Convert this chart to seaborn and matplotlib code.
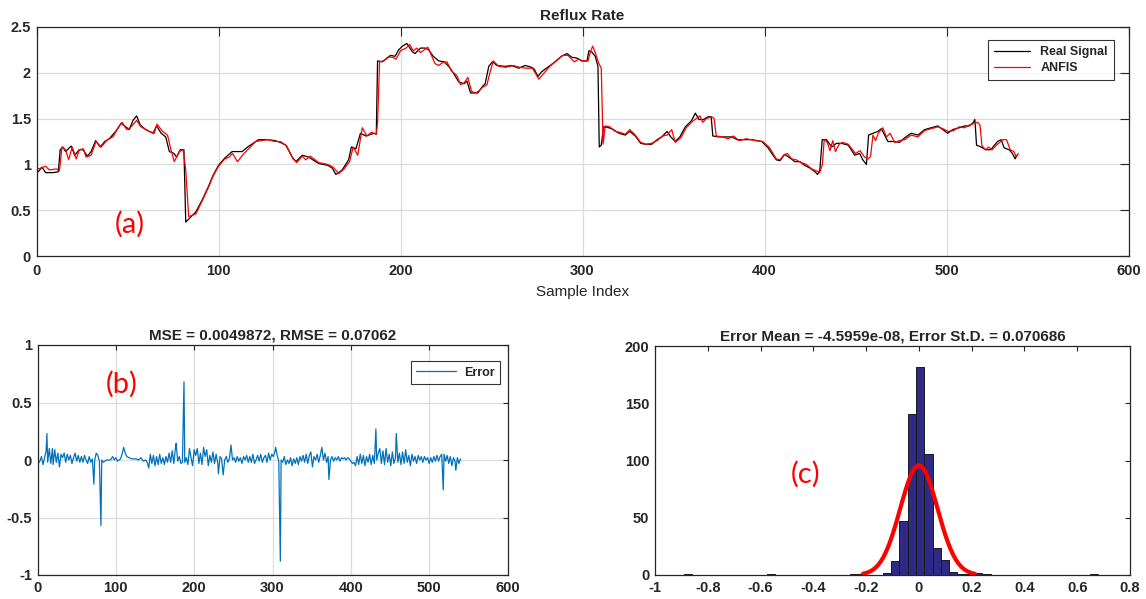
import numpy as np
import pandas as pd
import matplotlib
matplotlib.use("Agg")
import matplotlib.pyplot as plt
from matplotlib.ticker import FuncFormatter, MultipleLocator
import seaborn as sns

# ---------------- data ----------------
real_x = [1, 3, 5, 9, 12, 13, 14.5, 16, 19, 21, 23.5, 25.5, 28, 30, 32.5, 35, 37.5, 40, 43.5, 46.5,
          49, 51, 53, 55, 57, 60, 64, 66, 68.5, 71, 73, 75.5, 77, 79, 81, 82, 84, 87.5, 91, 94.5,
          97, 100, 103.5, 107.5, 113, 116, 122, 127, 131, 134, 137, 140.5, 142.5, 146, 149.5, 155, 160, 162.5, 164.5, 168,
          171.5, 173, 175.5, 178, 181, 185.5, 186.7, 187.4, 190, 192, 194.5, 197, 199, 201, 203.5, 206.5, 208, 211, 213.5, 215.5,
          218, 221, 224, 226.5, 229, 232, 235, 236.5, 238.5, 240, 242.5, 245, 246.5, 248.5, 250.5, 253, 257.5, 261,
          265, 268.5, 272, 273.5, 275.5, 277.5, 281.5, 285, 288.5, 291.5, 294, 297, 299.5, 302.5, 303.5, 305, 307, 308.5,
          309.2, 310.3, 311.6, 314.5, 317, 320, 323.5, 326, 329, 332, 334.5, 338, 341, 343.5, 346.5, 348.5, 351, 353.5,
          356.5, 360, 362, 364, 366.5, 369, 370.7, 371.6, 375, 382, 385, 393, 398.5, 402, 404, 406.5, 408.5, 411,
          414, 416.7, 419.5, 422, 425, 427.7, 429.2, 430.4, 431.7, 434, 437, 439.5, 442.3, 446, 449.6, 452.3, 454, 456,
          457.2, 459.6, 462.3, 464.2, 467.8, 471.5, 474.2, 477, 480.6, 484.3, 488, 491.5, 495.2, 498, 500.7, 503.4, 507, 510,
          512.5, 514.4, 515.6, 516.5, 519, 521.6, 524.3, 528, 530, 531.7, 534.4, 536.2, 537.7, 538.6]
real_y = [0.92, 0.97, 0.91, 0.91, 0.92, 1.16, 1.19, 1.14, 1.20, 1.10, 1.16, 1.16, 1.09, 1.14, 1.26, 1.19, 1.25, 1.28, 1.36, 1.45,
          1.41, 1.38, 1.48, 1.53, 1.43, 1.38, 1.34, 1.42, 1.34, 1.30, 1.14, 1.12, 1.08, 1.16, 1.16, 0.37, 0.41, 0.48, 0.61, 0.76,
          0.88, 0.99, 1.07, 1.14, 1.14, 1.19, 1.27, 1.27, 1.26, 1.24, 1.21, 1.08, 1.03, 1.10, 1.08, 1.01, 0.99, 0.96, 0.89, 0.94,
          1.05, 1.19, 1.17, 1.34, 1.31, 1.34, 1.33, 2.13, 2.12, 2.15, 2.19, 2.18, 2.25, 2.29, 2.32, 2.23, 2.21, 2.27, 2.27, 2.25,
          2.18, 2.13, 2.12, 2.07, 2.00, 1.90, 1.88, 1.91, 1.78, 1.78, 1.78, 1.85, 1.88, 2.07, 2.12, 2.08, 2.07, 2.08,
          2.05, 2.08, 2.06, 2.04, 1.96, 2.01, 2.07, 2.12, 2.18, 2.21, 2.17, 2.16, 2.13, 2.13, 2.24, 2.23, 2.18, 2.07,
          1.19, 1.21, 1.41, 1.40, 1.38, 1.34, 1.32, 1.36, 1.31, 1.23, 1.22, 1.22, 1.27, 1.30, 1.36, 1.30, 1.25, 1.30,
          1.41, 1.48, 1.56, 1.49, 1.49, 1.52, 1.52, 1.31, 1.30, 1.30, 1.27, 1.27, 1.25, 1.18, 1.12, 1.05, 1.04, 1.11,
          1.07, 1.03, 1.03, 0.99, 0.96, 0.92, 0.89, 0.94, 1.27, 1.27, 1.19, 1.23, 1.23, 1.21, 1.10, 1.12, 1.05, 1.00,
          1.32, 1.34, 1.36, 1.39, 1.25, 1.25, 1.24, 1.29, 1.34, 1.32, 1.38, 1.40, 1.42, 1.38, 1.34, 1.38, 1.40, 1.42,
          1.42, 1.45, 1.49, 1.21, 1.19, 1.16, 1.16, 1.25, 1.27, 1.18, 1.16, 1.12, 1.06, 1.10]

anfis_x = [1, 5, 7, 11, 12.6, 14, 16, 17.7, 19.6, 21.8, 23.6, 25.8, 27.2, 30, 32.7, 35.5, 39, 42, 44.6, 47,
           49.6, 52, 55, 57.4, 62, 64.7, 66.2, 69.3, 72, 73.5, 75.7, 78.4, 80.6, 82, 83.6, 87.6, 91, 94.5, 97, 100,
           103.5, 105.9, 107.7, 110.4, 114, 120.5, 127, 131, 134, 137.5, 141, 143, 146, 148, 150.5, 155, 160, 163, 166, 169,
           172, 174, 176.5, 179, 181.5, 184, 186.7, 187.4, 188.5, 190.5, 193, 195.5, 197.5, 200, 203, 205, 207, 209, 211, 213,
           215, 217, 219, 221, 223, 225.5, 228, 231, 233, 235, 237, 239, 241, 243, 245, 247.5, 249.5, 251, 254, 258,
           262, 265.5, 269, 272.5, 276, 279, 282, 286, 289, 292, 295.5, 298, 300, 303, 304.5, 305.6, 307, 308.8, 310.3, 311.3,
           312.5, 315, 318, 320.5, 323.5, 326, 329, 332, 335, 338, 341, 344, 346.5, 349, 351, 354, 357, 360.5, 362.5, 364.5,
           366, 368, 371, 372.3, 373.5, 377, 380, 383, 386, 390, 395, 399, 402.5, 406.5, 408.5, 410.5, 412.5, 415, 417.5, 420,
           423, 426, 428.5, 430.4, 431.8, 432.8, 434.5, 436, 437.5, 439, 441, 443, 446, 450, 452.5, 455, 457, 458.3, 459.6, 461,
           462.5, 465, 467, 469, 471.5, 474.2, 477, 480.6, 484.3, 488, 491.5, 495.2, 498, 501, 504, 507, 510, 512.5, 515.6, 517,
           518.4, 519.5, 521.6, 523, 525, 528, 531, 533, 535, 537, 538.3, 539.5]
anfis_y = [0.95, 0.98, 0.94, 0.95, 0.93, 1.19, 1.16, 1.05, 1.19, 1.06, 1.16, 1.17, 1.08, 1.10, 1.25, 1.19, 1.27, 1.30, 1.39, 1.46,
           1.38, 1.41, 1.48, 1.41, 1.36, 1.34, 1.44, 1.36, 1.32, 1.19, 1.03, 1.14, 1.16, 0.94, 0.43, 0.46, 0.60, 0.75, 0.87, 0.98,
           1.06, 1.08, 1.12, 1.03, 1.12, 1.25, 1.27, 1.25, 1.25, 1.20, 1.06, 1.02, 1.09, 1.05, 1.09, 1.02, 1.00, 0.97, 0.90, 0.95,
           1.03, 1.19, 1.10, 1.40, 1.31, 1.35, 1.33, 1.45, 2.12, 2.13, 2.17, 2.17, 2.15, 2.24, 2.27, 2.31, 2.24, 2.27, 2.22, 2.25,
           2.28, 2.19, 2.10, 2.08, 2.11, 2.12, 2.02, 1.97, 1.87, 1.89, 1.95, 1.80, 1.78, 1.80, 1.84, 1.87, 2.03, 2.13, 2.07, 2.06,
           2.08, 2.06, 2.05, 2.05, 1.93, 2.00, 2.07, 2.14, 2.19, 2.19, 2.12, 2.15, 2.13, 2.13, 2.24, 2.29, 2.22, 2.11, 2.05, 1.22,
           1.42, 1.41, 1.36, 1.35, 1.33, 1.38, 1.32, 1.24, 1.22, 1.23, 1.26, 1.31, 1.32, 1.38, 1.24, 1.29, 1.40, 1.47, 1.50, 1.53,
           1.46, 1.50, 1.52, 1.50, 1.31, 1.30, 1.28, 1.31, 1.26, 1.28, 1.26, 1.25, 1.19, 1.06, 1.05, 1.10, 1.12, 1.06, 1.05, 1.02,
           1.00, 0.95, 0.93, 0.91, 1.00, 1.27, 1.24, 1.15, 1.26, 1.14, 1.22, 1.24, 1.22, 1.12, 1.15, 1.08, 1.06, 1.09, 1.32, 1.26,
           1.34, 1.40, 1.30, 1.34, 1.24, 1.26, 1.27, 1.32, 1.30, 1.37, 1.39, 1.41, 1.39, 1.36, 1.37, 1.41, 1.40, 1.43, 1.45, 1.46,
           1.43, 1.20, 1.16, 1.19, 1.16, 1.22, 1.27, 1.27, 1.16, 1.14, 1.08, 1.12]

err_x = [1, 3, 5, 7, 9, 11, 12, 13, 15, 17, 19, 20, 22, 24, 26, 28, 30, 32, 34, 36, 38, 40, 42, 44, 46, 48, 50,
         52, 54, 56, 58, 60, 62, 64, 66, 68, 70, 72, 73, 75, 77, 79, 81, 82, 84, 86, 88, 90, 93, 96, 98, 100, 102,
         104, 106, 108, 110, 112, 114, 117, 120, 123, 126, 129, 132, 135, 138, 140, 142, 144, 146, 148, 150, 152, 154,
         156, 158, 160, 162, 164, 166, 168, 170, 172, 174, 176, 177, 179, 181, 183, 185, 187, 188, 190, 192, 194, 196,
         198, 200, 202, 204, 206, 208, 210, 212, 214, 216, 218, 220, 222, 224, 226, 228, 230, 231, 233, 235, 237, 239,
         241, 243, 245, 247, 249, 251, 253, 255, 257, 259, 261, 263, 265, 267, 269, 271, 273, 275, 277, 279, 281, 283,
         285, 287, 289, 291, 293, 295, 297, 299, 301, 303, 304, 306, 308, 310, 311, 313, 315, 317, 319, 321, 323, 325,
         327, 329, 331, 333, 335, 337, 339, 341, 343, 345, 347, 349, 351, 353, 355, 357, 359, 361, 363, 365, 367, 369,
         371, 372, 374, 376, 378, 380, 382, 384, 386, 388, 390, 392, 394, 396, 398, 400, 402, 404, 406, 408, 410, 412,
         414, 416, 418, 420, 422, 424, 426, 428, 430, 432, 433, 435, 437, 439, 441, 443, 445, 447, 449, 451, 453, 455,
         457, 458, 460, 462, 464, 466, 468, 470, 472, 474, 476, 478, 480, 482, 484, 486, 488, 490, 492, 494, 496, 498,
         500, 502, 504, 506, 508, 510, 512, 514, 516, 518, 519, 521, 523, 525, 527, 529, 531, 533, 534, 536, 538, 540]
err_y = [-0.03, -0.01, 0.03, -0.04, 0.02, 0.08, 0.23, -0.02, 0.10, -0.03, 0.10, -0.04, 0.09, -0.02, 0.06, -0.06, 0.05, 0.02,
         0.06, -0.02, 0.05, 0.00, 0.04, -0.03, 0.02, 0.06, -0.01, 0.04, -0.02, 0.03, -0.02, 0.04, 0.00, -0.03, 0.03, -0.02,
         0.01, -0.21, 0.00, 0.06, 0.04, -0.01, -0.57, 0.00, -0.02, -0.01, 0.00, 0.00, 0.00, 0.03, 0.00, 0.02, -0.01, 0.00,
         0.01, 0.05, 0.11, 0.06, 0.03, 0.02, 0.01, 0.01, 0.01, 0.00, 0.02, -0.01, 0.00, -0.02, -0.07, 0.05, -0.03, 0.04,
         -0.05, 0.03, -0.04, 0.05, -0.03, 0.02, -0.04, 0.03, -0.02, 0.06, -0.02, 0.08, -0.03, 0.10, 0.145, -0.01, 0.03,
         -0.03, -0.02, 0.68, -0.02, 0.02, -0.04, 0.10, 0.02, -0.05, 0.09, 0.04, 0.10, -0.03, 0.06, -0.04, 0.11, 0.03, 0.09,
         -0.05, 0.04, -0.02, 0.07, -0.03, 0.05, -0.02, -0.12, 0.03, 0.01, -0.13, 0.00, 0.03, -0.02, 0.01, 0.13, 0.00, 0.02,
         -0.02, 0.03, -0.01, 0.02, -0.03, 0.03, 0.00, 0.04, -0.02, 0.03, -0.02, 0.05, -0.03, 0.00, 0.04, -0.01, 0.05, -0.02,
         0.02, 0.04, -0.02, 0.06, 0.00, 0.05, 0.03, 0.07, 0.11, 0.04, -0.01, -0.88, 0.00, -0.02, 0.03, -0.04, 0.00, -0.03,
         0.02, -0.05, 0.01, -0.03, 0.02, -0.04, 0.03, -0.01, 0.04, -0.02, 0.05, -0.03, 0.04, 0.07, -0.06, 0.03, 0.00, 0.05,
         -0.02, 0.04, 0.11, 0.00, 0.06, -0.02, 0.03, -0.17, 0.00, 0.03, -0.01, 0.02, 0.00, 0.03, -0.01, 0.02, 0.01, 0.02,
         0.00, 0.02, 0.01, -0.01, -0.03, -0.02, -0.05, 0.03, -0.04, 0.05, -0.03, 0.04, -0.05, 0.03, -0.02, 0.05, -0.04,
         0.04, -0.03, 0.27, 0.00, 0.06, 0.10, -0.03, 0.08, -0.04, 0.10, -0.02, 0.05, -0.05, 0.07, -0.03, 0.02, 0.23, -0.02,
         0.06, -0.04, 0.07, -0.03, 0.09, -0.02, 0.04, -0.05, 0.05, -0.01, 0.03, -0.03, 0.04, 0.00, 0.03, -0.02, 0.03, 0.00,
         0.02, -0.03, 0.02, -0.02, 0.03, -0.01, 0.04, -0.01, 0.03, 0.05, -0.26, 0.05, -0.01, 0.04, -0.03, 0.03, -0.05, 0.02,
         -0.01, -0.09, 0.02, -0.03, 0.01]

# histogram of the error: 50 bins between the min and max error
err_min = -0.89
err_max = 0.68
n_bins = 50
bin_counts = [1, 0, 0, 0, 0, 0, 0, 0, 0, 0,
              1, 0, 0, 0, 0, 0, 0, 0, 0, 0,
              1, 1, 0, 0, 2, 12, 47, 141, 182, 106,
              24, 13, 3, 1, 1, 2, 1, 0, 0, 0,
              0, 0, 0, 0, 0, 0, 0, 0, 0, 1]
err_mean = -4.5959e-08
err_std = 0.070686
mse = 0.0049872
rmse = 0.07062

# ---------------- style ----------------
sns.set_theme(style="white")
plt.rcParams["font.family"] = ["Liberation Sans", "DejaVu Sans"]
plt.rcParams["axes.linewidth"] = 0.9
DARK = "#262626"

fig = plt.figure(figsize=(11.46, 5.99), dpi=100)
W, H = 1146.0, 599.0


def box(l, t, r, b):
    return [l / W, 1 - b / H, (r - l) / W, (b - t) / H]


fmt = FuncFormatter(lambda v, p: ("%g" % round(v, 6)) if abs(v) > 1e-9 else "0")


def style_axes(ax, ticklen):
    for s in ax.spines.values():
        s.set_color(DARK)
        s.set_linewidth(0.9)
    ax.tick_params(direction="in", top=True, right=True, length=ticklen, width=0.8,
                   colors=DARK, labelsize=10.5, pad=4)
    ax.xaxis.set_major_formatter(fmt)
    ax.yaxis.set_major_formatter(fmt)
    for lab in ax.get_xticklabels() + ax.get_yticklabels():
        lab.set_fontweight("bold")


LABEL_FONT = ["Lato", "DejaVu Sans"]

# ---------------- (a) top panel ----------------
ax1 = fig.add_axes(box(36.5, 27, 1128.5, 256))
df_real = pd.DataFrame({"x": real_x, "y": real_y})
df_anfis = pd.DataFrame({"x": anfis_x, "y": anfis_y})
sns.lineplot(data=df_real, x="x", y="y", ax=ax1, color="black", lw=0.9, label="Real Signal",
             estimator=None, sort=False)
sns.lineplot(data=df_anfis, x="x", y="y", ax=ax1, color="red", lw=0.9, label="ANFIS",
             estimator=None, sort=False)
ax1.set_xlim(0, 600)
ax1.set_ylim(0, 2.5)
ax1.xaxis.set_major_locator(MultipleLocator(100))
ax1.yaxis.set_major_locator(MultipleLocator(0.5))
ax1.grid(True, color="#dcdcdc", lw=0.9)
ax1.set_axisbelow(True)
ax1.set_xlabel("Sample Index", fontsize=11, color=DARK, labelpad=5)
ax1.set_ylabel("")
ax1.set_title("Reflux Rate", fontsize=11, fontweight="bold", pad=5)
style_axes(ax1, 6.5)
ax1.tick_params(axis="x", pad=6)
leg1 = ax1.legend(loc="upper right", bbox_to_anchor=(1114 / W, 1 - 40 / H),
                  bbox_transform=fig.transFigure, borderaxespad=0, fancybox=False,
                  frameon=True, edgecolor="black", fontsize=9, handlelength=2.9,
                  borderpad=0.5, labelspacing=0.3, handletextpad=0.8)
leg1.get_frame().set_linewidth(0.8)
for t in leg1.get_texts():
    t.set_fontweight("bold")
ax1.text(51, 0.35, "(a)", color="red", fontsize=21, family=LABEL_FONT,
         ha="center", va="center")

# ---------------- (b) error panel ----------------
ax2 = fig.add_axes(box(37.5, 345, 507.5, 575))
df_err = pd.DataFrame({"x": err_x, "y": err_y})
sns.lineplot(data=df_err, x="x", y="y", ax=ax2, color="#0072BD", lw=0.9, label="Error",
             estimator=None, sort=False)
ax2.set_xlim(0, 600)
ax2.set_ylim(-1, 1)
ax2.xaxis.set_major_locator(MultipleLocator(100))
ax2.yaxis.set_major_locator(MultipleLocator(0.5))
ax2.grid(True, color="#dcdcdc", lw=0.9)
ax2.set_axisbelow(True)
ax2.set_xlabel("")
ax2.set_ylabel("")
ax2.set_title("MSE = %g, RMSE = %g" % (mse, rmse), fontsize=11, fontweight="bold", pad=4)
style_axes(ax2, 3.6)
leg2 = ax2.legend(loc="upper right", bbox_to_anchor=(500 / W, 1 - 361 / H),
                  bbox_transform=fig.transFigure, borderaxespad=0, fancybox=False,
                  frameon=True, edgecolor="black", fontsize=9, handlelength=3.2,
                  borderpad=0.45, handletextpad=0.6)
leg2.get_frame().set_linewidth(0.8)
for t in leg2.get_texts():
    t.set_fontweight("bold")
ax2.text(108, 0.66, "(b)", color="red", fontsize=21, family=LABEL_FONT,
         ha="center", va="center")

# ---------------- (c) histogram panel ----------------
ax3 = fig.add_axes(box(655, 346, 1130, 575))
edges = np.linspace(err_min, err_max, n_bins + 1)
centers = (edges[:-1] + edges[1:]) / 2
df_hist = pd.DataFrame({"center": centers, "count": bin_counts})
sns.histplot(data=df_hist, x="center", weights="count", bins=n_bins,
             binrange=(err_min, err_max), ax=ax3,
             color="#2f2a85", edgecolor="#1a1a1a", linewidth=0.7, alpha=1.0)
bw = (err_max - err_min) / n_bins
n_total = sum(bin_counts)
xs = np.linspace(err_mean - 3 * err_std, err_mean + 3 * err_std, 200)
ys = n_total * bw / (err_std * np.sqrt(2 * np.pi)) * np.exp(-0.5 * ((xs - err_mean) / err_std) ** 2)
sns.lineplot(x=xs, y=ys, ax=ax3, color="red", lw=3)
ax3.set_xlim(-1, 0.8)
ax3.set_ylim(0, 200)
ax3.xaxis.set_major_locator(MultipleLocator(0.2))
ax3.yaxis.set_major_locator(MultipleLocator(50))
ax3.set_xlabel("")
ax3.set_ylabel("")
ax3.set_title("Error Mean = %g, Error St.D. = %g" % (err_mean, err_std),
              fontsize=11, fontweight="bold", pad=4)
style_axes(ax3, 3.6)
ax3.text(-0.43, 88, "(c)", color="red", fontsize=21, family=LABEL_FONT,
         ha="center", va="center")

fig.savefig("out.png", dpi=100)
